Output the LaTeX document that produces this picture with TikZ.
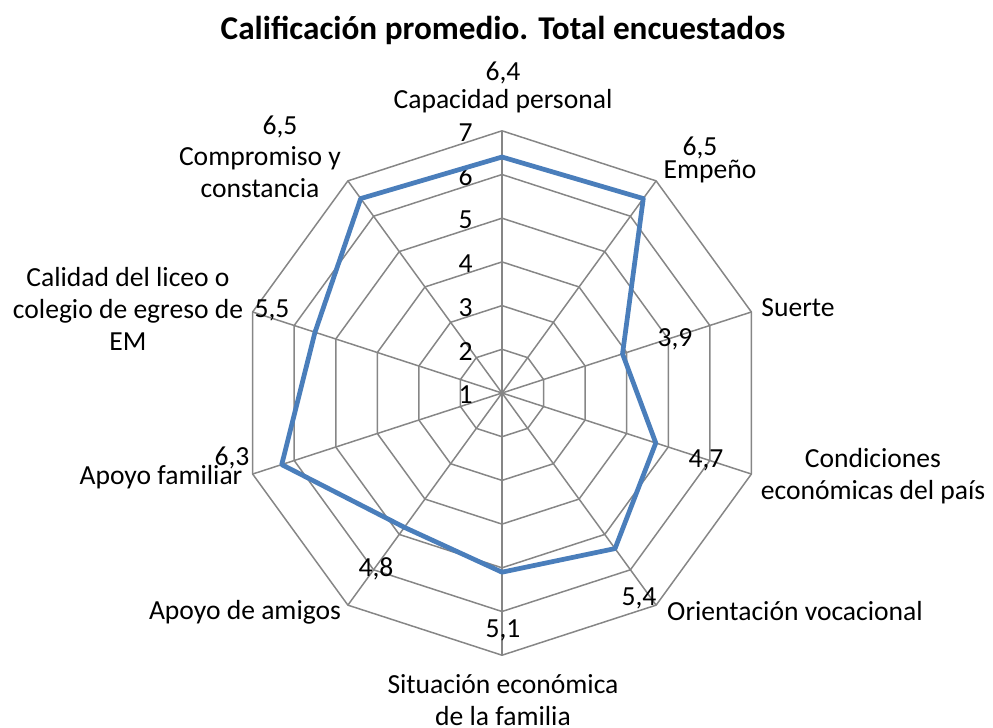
\documentclass[tikz,border=0pt]{standalone}
\usepackage{fontspec}
\setmainfont{Carlito}
\definecolor{gridgray}{RGB}{134,134,134}
\definecolor{lineblue}{RGB}{74,126,187}
\begin{document}
\begin{tikzpicture}[x=0.02cm, y=0.02cm, line join=round,
   grid/.style={draw=gridgray, line width=0.85pt},
   serie/.style={draw=lineblue, line width=2.7pt},
   lbl/.style={align=center, inner sep=0pt, font=\fontsize{15.7}{18.2}\selectfont}]
\useasboundingbox (0,0) rectangle (993,-727);
\node [font=\fontsize{18.9}{22}\selectfont\bfseries] (title) at (503,-30) {Calificación promedio. Total encuestados};
\begin{scope}[shift={(502,-393)}]
\coordinate (o) at (0,0);
\foreach \r in {1,...,6}
   \draw [grid] (90:{\r*43.7}) \foreach \k in {1,...,9} {-- ({90-36*\k}:{\r*43.7})} -- cycle;
\foreach \k in {0,...,9}
   \draw [grid] (o) -- ({90-36*\k}:262.2);
\foreach \n in {1,...,7}
   \node [lbl, anchor=east] at (-29,{(\n-1)*43.7-2}) {\n};
\foreach \v [count=\k from 0] in {6.4,6.5,3.9,4.7,5.4,5.1,4.8,6.3,5.5,6.5}
   \coordinate (p\k) at ({90-36*\k}:{(\v-1)*43.7});
\draw [serie] (p0) -- (p1) -- (p2) -- (p3) -- (p4) -- (p5) -- (p6) -- (p7) -- (p8) -- (p9) -- cycle;
\end{scope}
\node [lbl] (v0) at (503,-73) {6,4};
\node [lbl] (c0) at (503,-101) {Capacidad personal};
\node [lbl] (v1) at (700,-148) {6,5};
\node [lbl] (c1) at (710,-172) {Empeño};
\node [lbl] (v2) at (675,-339) {3,9};
\node [lbl] (c2) at (798,-308) {Suerte};
\node [lbl] (v3) at (706,-460) {4,7};
\node [lbl] (c3) at (873,-476) {Condiciones\\económicas del país};
\node [lbl] (v4) at (639,-598) {5,4};
\node [lbl] (c4) at (795,-611) {Orientación vocacional};
\node [lbl] (v5) at (503,-630) {5,1};
\node [lbl] (c5) at (503,-700) {Situación económica\\de la familia};
\node [lbl] (v6) at (376,-569) {4,8};
\node [lbl] (c6) at (245,-612) {Apoyo de amigos};
\node [lbl] (v7) at (232,-458) {6,3};
\node [lbl] (c7) at (161,-477) {Apoyo familiar};
\node [lbl] (v8) at (272,-310) {5,5};
\node [lbl] (c8) at (128,-309) {Calidad del liceo o\\colegio de egreso de\\EM};
\node [lbl] (v9) at (280,-127) {6,5};
\node [lbl] (c9) at (260,-172) {Compromiso y\\constancia};
\end{tikzpicture}
\end{document}
